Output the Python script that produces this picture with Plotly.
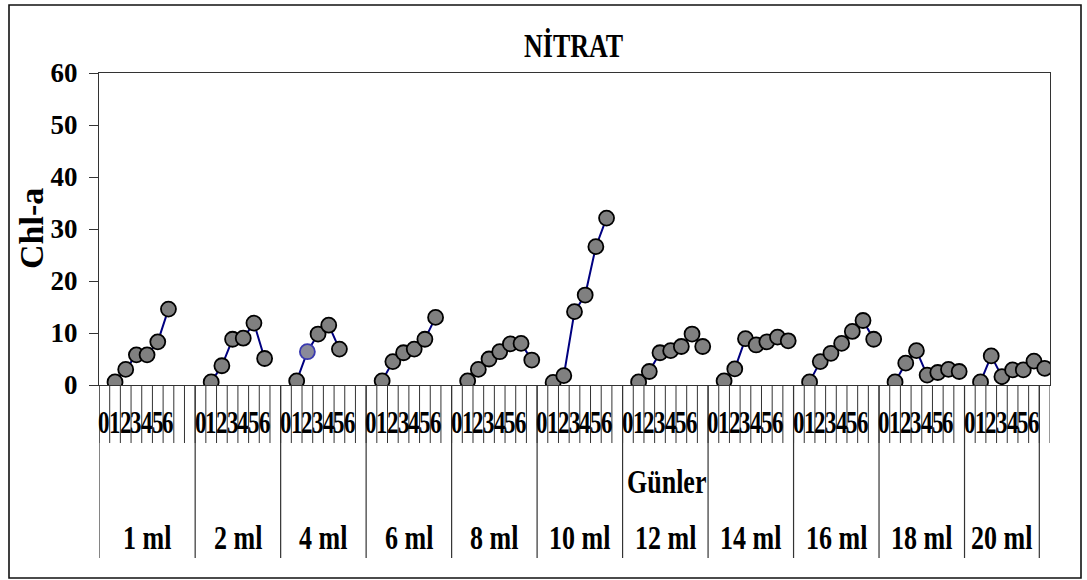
import plotly.graph_objects as go

# Chl-a readings per nitrate dose, days 0..n
doses = ["1 ml", "2 ml", "4 ml", "6 ml", "8 ml", "10 ml",
         "12 ml", "14 ml", "16 ml", "18 ml", "20 ml"]
day_labels = ["0", "1", "2", "3", "4", "5", "6"]

chl_1ml = [0.6, 3.0, 5.8, 5.8, 8.3, 14.6]
chl_2ml = [0.6, 3.7, 8.8, 9.0, 11.9, 5.1]
chl_4ml = [0.8, 6.4, 9.8, 11.5, 6.9]
chl_6ml = [0.8, 4.5, 6.2, 6.9, 8.8, 13.0]
chl_8ml = [0.8, 3.0, 5.0, 6.4, 7.9, 8.0, 4.8]
chl_10ml = [0.5, 1.8, 14.1, 17.3, 26.6, 32.1]
chl_12ml = [0.6, 2.6, 6.2, 6.6, 7.4, 9.8, 7.4]
chl_14ml = [0.8, 3.1, 8.9, 7.7, 8.3, 9.2, 8.5]
chl_16ml = [0.6, 4.5, 6.1, 8.0, 10.3, 12.4, 8.8]
chl_18ml = [0.6, 4.2, 6.6, 1.9, 2.4, 3.0, 2.6]
chl_20ml = [0.6, 5.6, 1.6, 2.9, 2.9, 4.6, 3.2]

series = [chl_1ml, chl_2ml, chl_4ml, chl_6ml, chl_8ml, chl_10ml,
          chl_12ml, chl_14ml, chl_16ml, chl_18ml, chl_20ml]

# category slots on the x axis: each dose block is a run of slots
slots_per_group = [9, 8, 8, 8, 8, 8, 8, 8, 8, 8, 7]
total_slots = sum(slots_per_group) + 1

starts = []
s = 0
for n in slots_per_group:
    starts.append(s)
    s += n

FONT = "Liberation Serif"
AX = "#333333"

# build the line with gaps between dose blocks
xs, ys, edge = [], [], []
for gi, vals in enumerate(series):
    for k, v in enumerate(vals):
        xs.append(starts[gi] + 1 + k + 0.5)
        ys.append(v)
        edge.append("#3a3ab0" if (gi == 2 and k == 1) else "#000000")
    xs.append(None)
    ys.append(None)
    edge.append("#000000")

fill = ["#8a8a9a" if c != "#000000" else "#808080" for c in edge]

fig = go.Figure()
fig.add_trace(go.Scatter(
    x=xs, y=ys, mode="lines+markers", connectgaps=False,
    line=dict(color="#000080", width=2),
    marker=dict(size=15, color=fill, line=dict(color=edge, width=1.8)),
    hoverinfo="y", showlegend=False,
))

plot_h = 385 - 73
shapes = []
annotations = []

# slot ticks below the axis
for i in range(total_slots + 1):
    shapes.append(dict(type="line", xref="x", yref="paper",
                       x0=i, x1=i, y0=0, y1=-(443 - 385) / plot_h,
                       line=dict(color=AX, width=1)))
# dose block dividers
for b in starts + [starts[-1] + slots_per_group[-1]]:
    shapes.append(dict(type="line", xref="x", yref="paper",
                       x0=b, x1=b, y0=0, y1=-(558 - 385) / plot_h,
                       line=dict(color=AX, width=1.2)))

# outer chart frame
plot_w = 1050 - 99
shapes.append(dict(type="rect", xref="paper", yref="paper",
                   x0=(9 - 99) / plot_w, x1=(1081 - 99) / plot_w,
                   y0=(385 - 578) / plot_h, y1=(385 - 5) / plot_h,
                   line=dict(color="#111111", width=1.6)))

# day labels and dose labels
for gi, name in enumerate(doses):
    for k, d in enumerate(day_labels):
        annotations.append(dict(
            x=starts[gi] + k + 0.5, y=-(423 - 385) / plot_h,
            xref="x", yref="paper", text=d, showarrow=False,
            xanchor="center", yanchor="middle",
            font=dict(family=FONT, size=23, color="black", weight="bold")))
    annotations.append(dict(
        x=starts[gi] + slots_per_group[gi] / 2, y=-(537 - 385) / plot_h,
        xref="x", yref="paper", text=name, showarrow=False,
        xanchor="center", yanchor="middle",
        font=dict(family=FONT, size=26, color="black", weight="bold")))

annotations.append(dict(
    x=(666 - 99) / plot_w, y=-(481 - 385) / plot_h, xref="paper", yref="paper",
    text="Günler", showarrow=False, xanchor="center", yanchor="middle",
    font=dict(family=FONT, size=26, color="black", weight="bold")))
annotations.append(dict(
    x=(573 - 99) / plot_w, y=(385 - 45) / plot_h, xref="paper", yref="paper",
    text="NİTRAT", showarrow=False, xanchor="center", yanchor="middle",
    font=dict(family=FONT, size=26, color="black", weight="bold")))
annotations.append(dict(
    x=(31 - 99) / plot_w, y=(385 - 229) / plot_h, xref="paper", yref="paper",
    text="Chl-a", showarrow=False, textangle=-90,
    xanchor="center", yanchor="middle",
    font=dict(family=FONT, size=34, color="black", weight="bold")))

fig.update_layout(
    width=1087, height=580, autosize=False,
    margin=dict(l=99, r=1087 - 1050, t=73, b=580 - 385),
    paper_bgcolor="white", plot_bgcolor="white",
    shapes=shapes, annotations=annotations,
    xaxis=dict(range=[0, total_slots], showgrid=False, zeroline=False,
               showticklabels=False, ticks="", showline=True,
               linecolor=AX, linewidth=1.2, mirror=True, fixedrange=True),
    yaxis=dict(range=[0, 60], dtick=10, showgrid=False, zeroline=False,
               ticks="outside", ticklen=9, tickcolor=AX, tickwidth=1.2,
               showline=True, linecolor=AX, linewidth=1.2, mirror=True,
               ticklabelstandoff=6,
               tickfont=dict(family=FONT, size=27, color="black",
                             weight="bold"),
               fixedrange=True),
)

# horizontal annotation texts are set in a tall, narrow face:
# stretch them vertically about their own centre
tall_text_js = """
(function(){
  var k = 1.33;
  function stretch(){
    document.querySelectorAll('text.annotation-text').forEach(function(t){
      if (t.textContent === 'Chl-a') return;
      if (!t.hasAttribute('data-base-tf')) {
        t.setAttribute('data-base-tf', t.getAttribute('transform') || '');
      }
      var base = t.getAttribute('data-base-tf');
      t.setAttribute('transform', base);
      var b = t.getBBox();
      var cy = b.y + b.height / 2;
      t.setAttribute('transform', base + ' translate(0,' + cy + ') scale(1,' + k +
                     ') translate(0,' + (-cy) + ')');
    });
  }
  var gd = document.getElementById('{plot_id}');
  stretch();
  if (gd && gd.on) gd.on('plotly_afterplot', stretch);
})();
"""

fig.write_html("out.html", post_script=tall_text_js)
